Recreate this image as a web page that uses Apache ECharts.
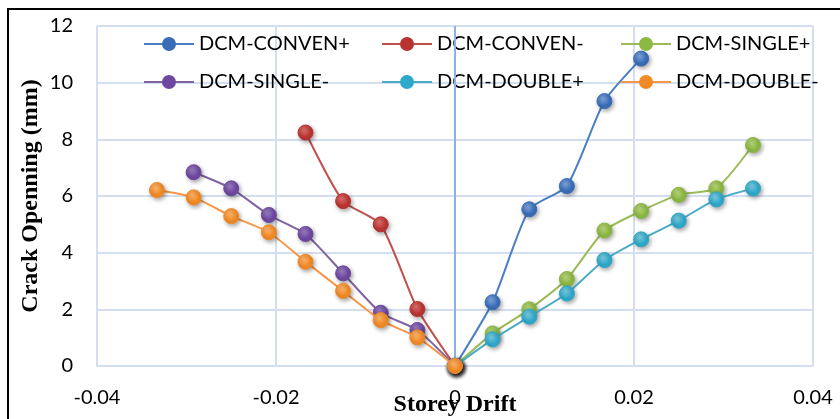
<!DOCTYPE html>
<html>
<head>
<meta charset="utf-8">
<script src="https://cdn.jsdelivr.net/npm/echarts@6/dist/echarts.min.js"></script>
<style>html,body{margin:0;padding:0;background:#fff;}#c{width:840px;height:419px;}</style>
</head>
<body>
<div id="c"></div>
<script>
// ---- data ----
const xPos = [0, 0.0042, 0.0083, 0.0125, 0.0167, 0.0208, 0.025, 0.0292, 0.0333];
const xNeg = [0, -0.0042, -0.0083, -0.0125, -0.0167, -0.0208, -0.025, -0.0292, -0.0333];
const seriesNames = ['DCM-CONVEN+', 'DCM-CONVEN-', 'DCM-SINGLE+', 'DCM-SINGLE-', 'DCM-DOUBLE+', 'DCM-DOUBLE-'];
const convenPlus  = [0, 2.25, 5.53, 6.35, 9.35, 10.85];
const convenMinus = [0, 2.01, 5.00, 5.82, 8.24];
const singlePlus  = [0, 1.15, 2.00, 3.07, 4.78, 5.47, 6.04, 6.27, 7.80];
const singleMinus = [0, 1.27, 1.88, 3.27, 4.66, 5.33, 6.27, 6.84];
const doublePlus  = [0, 0.94, 1.74, 2.56, 3.74, 4.47, 5.13, 5.88, 6.27];
const doubleMinus = [0, 1.01, 1.62, 2.65, 3.68, 4.72, 5.29, 5.95, 6.21];
const xTicks = [-0.04, -0.02, 0, 0.02, 0.04];
const xTickLabels = ['-0.04', '-0.02', '0', '0.02', '0.04'];
const yTickLabels = ['0', '2', '4', '6', '8', '10', '12'];

// ---- styles ----
const lineColors = ['#4A7EC2', '#C0504D', '#9BBB59', '#8064A2', '#4BACC6', '#F79646'];
const markColors = ['#3A6DB8', '#B83431', '#8DB843', '#6E48A0', '#2FA8C9', '#F28A25'];
const lightColors = ['#7FA5DD', '#E0706C', '#B8D67C', '#9A7EC0', '#7ACBE0', '#FFB56E'];
const xsets = [xPos, xNeg, xPos, xNeg, xPos, xNeg];
const ysets = [convenPlus, convenMinus, singlePlus, singleMinus, doublePlus, doubleMinus];

function pairs(xs, ys) { return ys.map((v, i) => [xs[i], v]); }

const uiFont = 'Lato, "Noto Sans", sans-serif';
const serifFont = '"Liberation Serif", "DejaVu Serif", serif';
const series = seriesNames.map((name, i) => ({
  name: name,
  type: 'line',
  data: pairs(xsets[i], ysets[i]),
  smooth: 0.2,
  symbol: 'circle',
  symbolSize: 15,
  z: 2 + i,
  lineStyle: { color: lineColors[i], width: 2 },
  itemStyle: {
    color: new echarts.graphic.RadialGradient(0.4, 0.35, 0.75, [
      { offset: 0, color: lightColors[i] },
      { offset: 0.6, color: markColors[i] },
      { offset: 1, color: markColors[i] }
    ]),
    borderColor: markColors[i],
    borderWidth: 1,
    shadowBlur: 4,
    shadowColor: 'rgba(0,0,0,0.35)',
    shadowOffsetX: 1.5,
    shadowOffsetY: 2
  },
  emphasis: { disabled: true },
  markLine: i === 0 ? {
    silent: true,
    symbol: 'none',
    label: { show: false },
    lineStyle: { color: '#8DB1E2', width: 2, type: 'solid' },
    data: [{ xAxis: 0 }]
  } : undefined
}));

function legendCol(names, left) {
  return {
    orient: 'vertical',
    left: left,
    top: 34,
    padding: 0,
    itemWidth: 50,
    itemHeight: 15,
    itemGap: 18,
    data: names.map(n => ({ name: n, itemStyle: { color: markColors[seriesNames.indexOf(n)] } })),
    textStyle: { fontFamily: uiFont, fontSize: 20, color: '#000', lineHeight: 20 },
    selectedMode: false
  };
}

const chart = echarts.init(document.getElementById('c'), null, { renderer: 'canvas' });
chart.setOption({
  animation: false,
  backgroundColor: '#fff',
  grid: { left: 97, right: 27, top: 26, bottom: 53, outerBoundsMode: 'none', containLabel: false },
  legend: [
    legendCol([seriesNames[0], seriesNames[3]], 143),
    legendCol([seriesNames[1], seriesNames[4]], 381),
    legendCol([seriesNames[2], seriesNames[5]], 620)
  ],
  xAxis: {
    type: 'value',
    min: xTicks[0], max: xTicks[xTicks.length - 1], interval: 0.02,
    name: 'Storey Drift',
    nameLocation: 'middle',
    nameGap: 27,
    nameMoveOverlap: false,
    nameTextStyle: { fontFamily: serifFont, fontWeight: 'bold', fontSize: 24, color: '#000' },
    axisLine: { show: true, onZero: false, lineStyle: { color: '#D3DFF0', width: 2 } },
    axisTick: { show: false },
    axisLabel: {
      margin: 22, fontFamily: uiFont, fontSize: 20, color: '#000',
      formatter: v => { const k = xTicks.findIndex(t => Math.abs(t - v) < 1e-9); return k >= 0 ? xTickLabels[k] : ''; }
    },
    splitLine: { show: true, lineStyle: { color: '#D3DFF0', width: 2 } }
  },
  yAxis: {
    type: 'value',
    min: 0, max: 12, interval: 2,
    name: 'Crack Openning (mm)',
    nameLocation: 'middle',
    nameGap: 54,
    nameRotate: 90,
    nameMoveOverlap: false,
    nameTextStyle: { fontFamily: serifFont, fontWeight: 'bold', fontSize: 24, color: '#000' },
    axisLine: { show: true, lineStyle: { color: '#D3DFF0', width: 2 } },
    axisTick: { show: false },
    axisLabel: {
      margin: 24, fontFamily: uiFont, fontSize: 20, color: '#000',
      formatter: v => yTickLabels[Math.round(v / 2)] || ''
    },
    splitLine: { show: true, lineStyle: { color: '#D3DFF0', width: 2 } }
  },
  graphic: [{
    type: 'rect',
    shape: { x: 8, y: 9, width: 850, height: 430 },
    style: { fill: 'none', stroke: '#000', lineWidth: 2 },
    silent: true,
    z: 100
  }],
  series: series
});
</script>
</body>
</html>
